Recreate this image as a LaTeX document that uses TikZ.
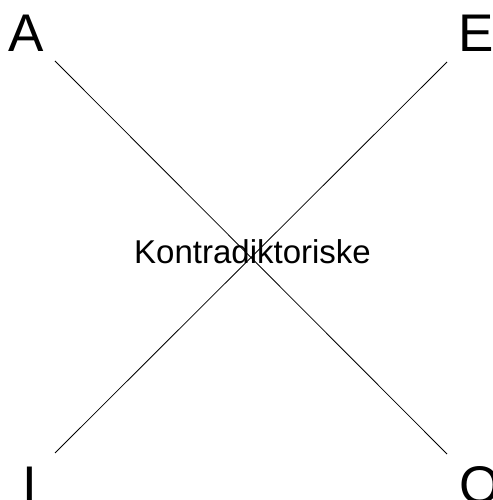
\documentclass[tikz,border=0pt]{standalone}
\usepackage{fontspec}
\setmainfont{Liberation Sans}
\begin{document}
\begin{tikzpicture}[x=1pt,y=1pt,
  corner/.style={inner sep=0pt, anchor=base west, font=\fontsize{53}{60}\selectfont},
  lbl/.style={inner sep=0pt, font=\fontsize{33}{40}\selectfont},
  edge/.style={line width=0.8pt, black}]
\useasboundingbox (0,0) rectangle (492,500);
\node[corner] (A) at (8,448) {A};
\node[corner] (E) at (458,448) {E};
\node[corner] (I) at (22,-4) {I};
\node[corner] (O) at (459,-3) {O};
\coordinate (a1) at (55,439);
\coordinate (o1) at (447,46);
\coordinate (e1) at (447,438);
\coordinate (i1) at (55,47);
\draw[edge] (a1) -- (o1);
\draw[edge] (e1) -- (i1);
\node[lbl, anchor=base] (K) at (252.5,236) {Kontradiktoriske};
\end{tikzpicture}
\end{document}
